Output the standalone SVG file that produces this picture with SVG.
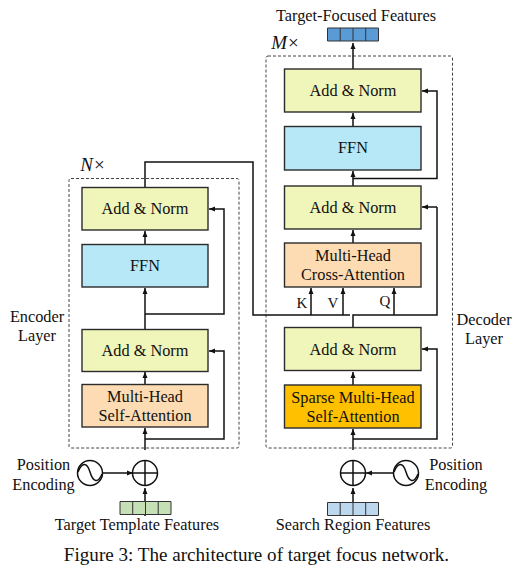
<svg xmlns="http://www.w3.org/2000/svg" width="522" height="570" viewBox="0 0 522 570">
<defs>
<marker id="a" markerUnits="userSpaceOnUse" markerWidth="7" markerHeight="7" refX="6" refY="3" orient="auto"><path d="M0,0.500 L6,3 L0,5.500 Z" fill="#111"/></marker>
</defs>
<style>
text{font-family:"Liberation Serif",serif;font-size:16.3px;fill:#111;text-anchor:middle}
.b{stroke:#2b2b2b;stroke-width:1.4}
.add{fill:#f0f5b9}.ffn{fill:#b7e8f8}.att{fill:#fddcb4}.sp{fill:#ffc000}
.d{fill:none;stroke:#444;stroke-width:1;stroke-dasharray:3 2}
.c{fill:none;stroke:#111;stroke-width:1.5}
.ar{marker-end:url(#a)}
.cap{font-size:19.1px}
.l{font-size:15px}
.m{font-size:19px}
</style>
<rect class="d" x="69" y="178.500" width="170" height="269.500" rx="2"/>
<rect class="d" x="266" y="56" width="186.500" height="392" rx="2"/>
<g id="connectors">
<path class="c ar" d="M145 516V488"/>
<path class="c ar" d="M145 450V428"/>
<path class="c ar" d="M145 384V372"/>
<path class="c ar" d="M145 329V288"/>
<path class="c ar" d="M145 244V231"/>
<path class="c ar" d="M145 439H224V351H209"/>
<path class="c ar" d="M145 314H224V209H209"/>
<path class="c" d="M145 187V162H253V315H350"/>
<path class="c ar" d="M311 315V288"/>
<path class="c ar" d="M343 315V288"/>
<path class="c" d="M353 327V315H437V207"/>
<path class="c ar" d="M394 315V288"/>
<path class="c ar" d="M437 207H422"/>
<path class="c ar" d="M353 243V230"/>
<path class="c ar" d="M353 186V171"/>
<path class="c ar" d="M353 126V113"/>
<path class="c ar" d="M353 69V43"/>
<path class="c ar" d="M353 385V372"/>
<path class="c ar" d="M353 450V429"/>
<path class="c ar" d="M353 439H437V349H422"/>
<path class="c ar" d="M353 178.500H437V91H422"/>
<path class="c ar" d="M353 516V488"/>
<path class="c ar" d="M103 473H133"/>
<path class="c ar" d="M393 473H366"/>
</g>
<g id="enc-norm2"><rect class="b add" x="82" y="187.500" width="126" height="42.500"/><text x="145" y="214">Add &amp; Norm</text></g>
<g id="enc-ffn"><rect class="b ffn" x="82" y="244.500" width="126" height="42.500"/><text x="145" y="271">FFN</text></g>
<g id="enc-norm1"><rect class="b add" x="82" y="329.500" width="126" height="42"/><text x="145" y="356">Add &amp; Norm</text></g>
<g id="enc-att"><rect class="b att" x="82" y="384.500" width="126" height="42.500"/><text x="145" y="402">Multi-Head</text><text x="145" y="421">Self-Attention</text></g>
<g id="dec-norm3"><rect class="b add" x="284.500" y="69" width="136.500" height="43"/><text x="353" y="96">Add &amp; Norm</text></g>
<g id="dec-ffn"><rect class="b ffn" x="284.500" y="126.500" width="136.500" height="43.500"/><text x="353" y="153">FFN</text></g>
<g id="dec-norm2"><rect class="b add" x="284.500" y="186" width="136.500" height="43"/><text x="353" y="213">Add &amp; Norm</text></g>
<g id="dec-cross"><rect class="b att" x="284.500" y="243" width="136.500" height="44"/><text x="353" y="261">Multi-Head</text><text x="353" y="280">Cross-Attention</text></g>
<g id="dec-norm1"><rect class="b add" x="284.500" y="327.500" width="136.500" height="43"/><text x="353" y="355">Add &amp; Norm</text></g>
<g id="dec-att"><rect class="b sp" x="284.500" y="385" width="136.500" height="43"/><text x="353" y="403">Sparse Multi-Head</text><text x="353" y="422">Self-Attention</text></g>
<g id="add-left"><circle cx="145" cy="473" r="12.500" fill="#fff" stroke="#111" stroke-width="1.500"/><path class="c" d="M132.500 473H157.500M145 460.500V485.500"/></g>
<g id="add-right"><circle cx="353" cy="473" r="12.500" fill="#fff" stroke="#111" stroke-width="1.500"/><path class="c" d="M340.500 473H365.500M353 460.500V485.500"/></g>
<g id="pe-left"><circle cx="90" cy="473" r="12.500" fill="#fff" stroke="#111" stroke-width="1.500"/><path class="c" d="M78 472C82 462 87 462 90 472S98 484 102 474"/><text x="43.500" y="470">Position</text><text x="43.500" y="490">Encoding</text></g>
<g id="pe-right"><circle cx="406" cy="473" r="12.500" fill="#fff" stroke="#111" stroke-width="1.500"/><path class="c" d="M394 472C398 462 403 462 406 472S414 484 418 474"/><text x="456" y="470">Position</text><text x="456" y="490">Encoding</text></g>
<g id="feat-template"><path d="M120 501.500H171V514.500H120Z" fill="#c5e0b4" stroke="#333" stroke-width="1"/><path d="M132.700 501.500V514.500M145.500 501.500V514.500M158.200 501.500V514.500" stroke="#333" stroke-width="1"/><text x="137" y="530">Target Template Features</text></g>
<g id="feat-search"><path d="M327.500 502.500H378.500V515.500H327.500Z" fill="#bdd7ee" stroke="#333" stroke-width="1"/><path d="M340.200 502.500V515.500M353 502.500V515.500M365.700 502.500V515.500" stroke="#333" stroke-width="1"/><text x="353" y="530">Search Region Features</text></g>
<g id="feat-output"><path d="M327.500 28H378.500V41H327.500Z" fill="#5b9bd5" stroke="#333" stroke-width="1"/><path d="M340.200 28V41M353 28V41M365.700 28V41" stroke="#333" stroke-width="1"/><text x="356" y="21">Target-Focused Features</text></g>
<text x="37" y="321.500">Encoder</text>
<text x="37" y="341">Layer</text>
<text x="484" y="325">Decoder</text>
<text x="484" y="344">Layer</text>
<text x="302" y="308" class="l">K</text>
<text x="333" y="308" class="l">V</text>
<text x="385" y="306" class="l">Q</text>
<text x="92.500" y="171" class="m"><tspan font-style="italic">N</tspan><tspan dx="1">×</tspan></text>
<text x="285" y="49" class="m"><tspan font-style="italic">M</tspan><tspan dx="1">×</tspan></text>
<text x="256.500" y="561" class="cap">Figure 3: The architecture of target focus network.</text>
</svg>
